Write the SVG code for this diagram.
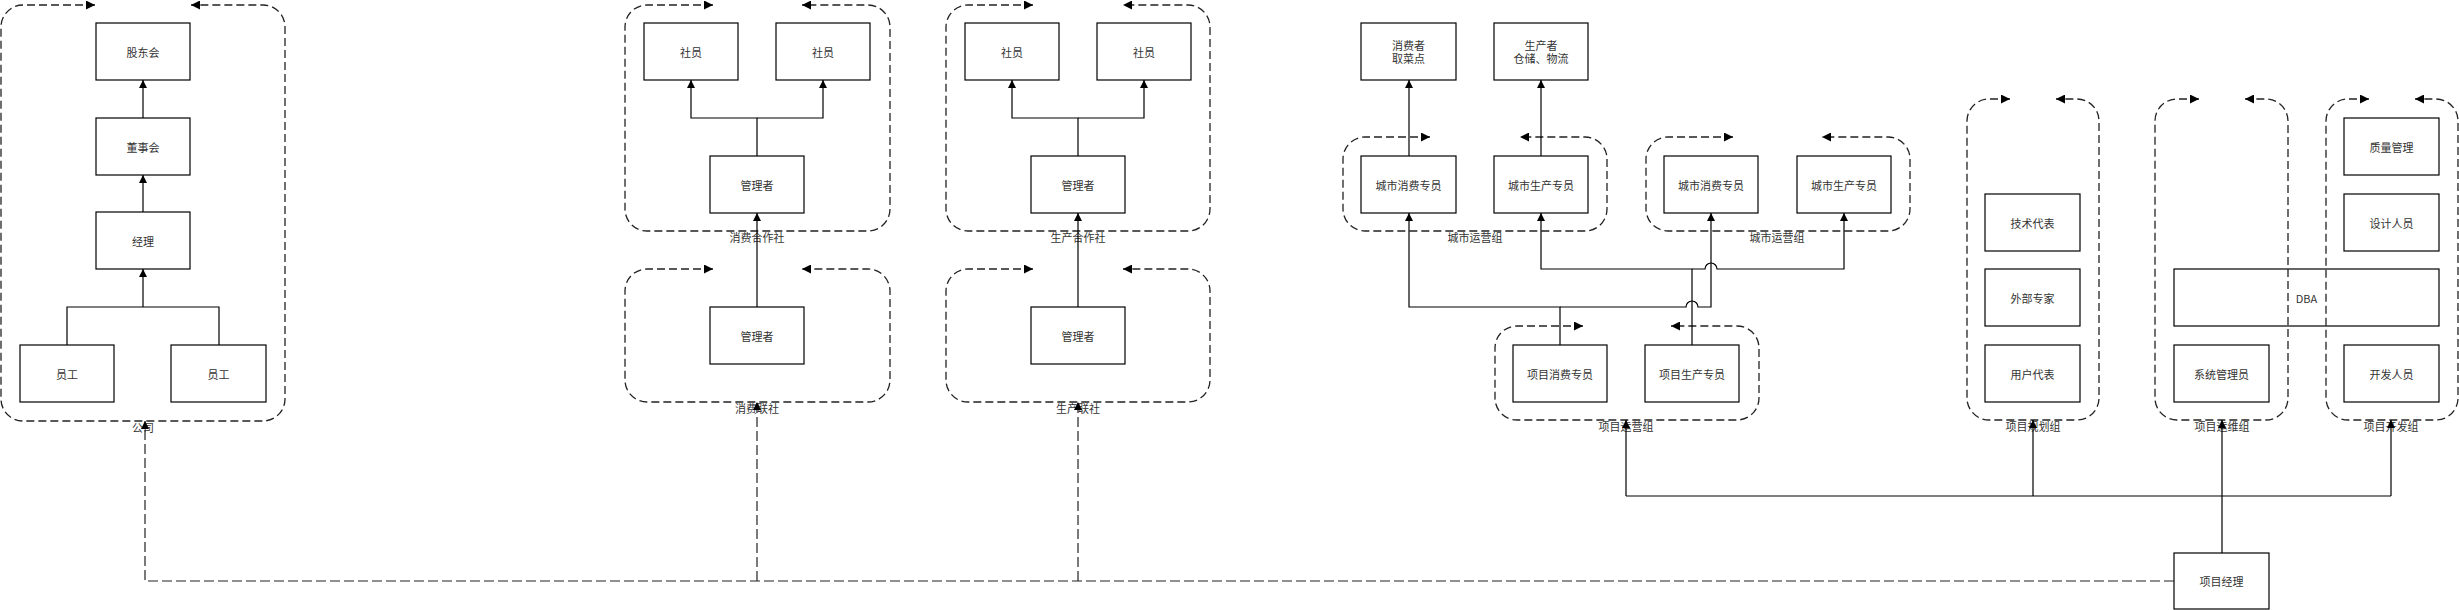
<svg xmlns="http://www.w3.org/2000/svg" width="2459" height="610" viewBox="0 0 2459 610">
<style>
.box{fill:#fff;stroke:#000;stroke-width:1.2}
.t{font-family:"Noto Sans CJK SC","Liberation Sans",sans-serif;font-size:11px;fill:#333;text-anchor:middle;dominant-baseline:central}
.ct{fill:none;stroke:#222;stroke-width:1.3;stroke-dasharray:8 4;marker-start:url(#ca);marker-end:url(#ca)}
.c{fill:none;stroke:#000;stroke-width:1.2}
.ca{marker-end:url(#a)}
.d{fill:none;stroke:#222;stroke-width:1.2;stroke-dasharray:10 4}
</style>
<defs>
<marker id="a" viewBox="0 0 10 10" refX="10" refY="5" markerWidth="8" markerHeight="9" markerUnits="userSpaceOnUse" orient="auto"><path d="M0,0L10,5L0,10z" fill="#000"/></marker>
<marker id="ca" viewBox="0 0 10 10" refX="10" refY="5" markerWidth="10" markerHeight="9" markerUnits="userSpaceOnUse" orient="auto-start-reverse"><path d="M0,0L10,5L0,10z" fill="#000"/></marker>
</defs>
<rect width="2459" height="610" fill="#fff"/>

<g id="nodes">
<g id="n-gudong"><rect class="box" x="96" y="23" width="94" height="57"/><text class="t" x="143" y="51.5">股东会</text></g>
<g id="n-dongshi"><rect class="box" x="96" y="118" width="94" height="57"/><text class="t" x="143" y="146.5">董事会</text></g>
<g id="n-jingli"><rect class="box" x="96" y="212" width="94" height="57"/><text class="t" x="143" y="240.5">经理</text></g>
<g id="n-yg1"><rect class="box" x="20" y="345" width="94" height="57"/><text class="t" x="67" y="373.5">员工</text></g>
<g id="n-yg2"><rect class="box" x="171" y="345" width="95" height="57"/><text class="t" x="218.5" y="373.5">员工</text></g>

<g id="n-xf-sy1"><rect class="box" x="644" y="23" width="94" height="57"/><text class="t" x="691" y="51.5">社员</text></g>
<g id="n-xf-sy2"><rect class="box" x="776" y="23" width="94" height="57"/><text class="t" x="823" y="51.5">社员</text></g>
<g id="n-xf-gl"><rect class="box" x="710" y="156" width="94" height="57"/><text class="t" x="757" y="184.5">管理者</text></g>
<g id="n-xfls-gl"><rect class="box" x="710" y="307" width="94" height="57"/><text class="t" x="757" y="335.5">管理者</text></g>

<g id="n-sc-sy1"><rect class="box" x="965" y="23" width="94" height="57"/><text class="t" x="1012" y="51.5">社员</text></g>
<g id="n-sc-sy2"><rect class="box" x="1097" y="23" width="94" height="57"/><text class="t" x="1144" y="51.5">社员</text></g>
<g id="n-sc-gl"><rect class="box" x="1031" y="156" width="94" height="57"/><text class="t" x="1078" y="184.5">管理者</text></g>
<g id="n-scls-gl"><rect class="box" x="1031" y="307" width="94" height="57"/><text class="t" x="1078" y="335.5">管理者</text></g>

<g id="n-xfz"><rect class="box" x="1361" y="23" width="95" height="57"/><text class="t" x="1408.5" y="45">消费者</text><text class="t" x="1408.5" y="58">取菜点</text></g>
<g id="n-scz"><rect class="box" x="1494" y="23" width="94" height="57"/><text class="t" x="1541" y="45">生产者</text><text class="t" x="1541" y="58">仓储、物流</text></g>
<g id="n-cs-xf1"><rect class="box" x="1361" y="156" width="95" height="57"/><text class="t" x="1408.5" y="184.5">城市消费专员</text></g>
<g id="n-cs-sc1"><rect class="box" x="1494" y="156" width="94" height="57"/><text class="t" x="1541" y="184.5">城市生产专员</text></g>
<g id="n-cs-xf2"><rect class="box" x="1664" y="156" width="94" height="57"/><text class="t" x="1711" y="184.5">城市消费专员</text></g>
<g id="n-cs-sc2"><rect class="box" x="1797" y="156" width="94" height="57"/><text class="t" x="1844" y="184.5">城市生产专员</text></g>
<g id="n-xm-xf"><rect class="box" x="1513" y="345" width="94" height="57"/><text class="t" x="1560" y="373.5">项目消费专员</text></g>
<g id="n-xm-sc"><rect class="box" x="1645" y="345" width="94" height="57"/><text class="t" x="1692" y="373.5">项目生产专员</text></g>

<g id="n-jsdb"><rect class="box" x="1985" y="194" width="95" height="57"/><text class="t" x="2032.5" y="222.5">技术代表</text></g>
<g id="n-wbzj"><rect class="box" x="1985" y="269" width="95" height="57"/><text class="t" x="2032.5" y="297.5">外部专家</text></g>
<g id="n-yhdb"><rect class="box" x="1985" y="345" width="95" height="57"/><text class="t" x="2032.5" y="373.5">用户代表</text></g>
<g id="n-xtgl"><rect class="box" x="2174" y="345" width="95" height="57"/><text class="t" x="2221.5" y="373.5">系统管理员</text></g>
<g id="n-dba"><rect class="box" x="2174" y="269" width="265" height="57" fill="none" style="fill:none"/><text class="t" x="2306.5" y="297.5">DBA</text></g>
<g id="n-zlgl"><rect class="box" x="2344" y="118" width="95" height="57"/><text class="t" x="2391.5" y="146.5">质量管理</text></g>
<g id="n-sjry"><rect class="box" x="2344" y="194" width="95" height="57"/><text class="t" x="2391.5" y="222.5">设计人员</text></g>
<g id="n-kfry"><rect class="box" x="2344" y="345" width="95" height="57"/><text class="t" x="2391.5" y="373.5">开发人员</text></g>
<g id="n-xmjl"><rect class="box" x="2174" y="553" width="95" height="56"/><text class="t" x="2221.5" y="581">项目经理</text></g>
</g>

<g id="containers">
<g id="g-gongsi"><path class="ct" d="M95,5 H23 A22,22 0 0 0 1,27 V399 A22,22 0 0 0 23,421 H263 A22,22 0 0 0 285,399 V27 A22,22 0 0 0 263,5 H191"/><text class="t" x="143" y="427">公司</text></g>
<g id="g-xfhzs"><path class="ct" d="M713,5 H647 A22,22 0 0 0 625,27 V209 A22,22 0 0 0 647,231 H868 A22,22 0 0 0 890,209 V27 A22,22 0 0 0 868,5 H802"/><text class="t" x="757" y="237">消费合作社</text></g>
<g id="g-xfls"><path class="ct" d="M713,269 H647 A22,22 0 0 0 625,291 V380 A22,22 0 0 0 647,402 H868 A22,22 0 0 0 890,380 V291 A22,22 0 0 0 868,269 H802"/><text class="t" x="757" y="408">消费联社</text></g>
<g id="g-schzs"><path class="ct" d="M1033,5 H968 A22,22 0 0 0 946,27 V209 A22,22 0 0 0 968,231 H1188 A22,22 0 0 0 1210,209 V27 A22,22 0 0 0 1188,5 H1123"/><text class="t" x="1078" y="237">生产合作社</text></g>
<g id="g-scls"><path class="ct" d="M1033,269 H968 A22,22 0 0 0 946,291 V380 A22,22 0 0 0 968,402 H1188 A22,22 0 0 0 1210,380 V291 A22,22 0 0 0 1188,269 H1123"/><text class="t" x="1078" y="408">生产联社</text></g>
<g id="g-csyy1"><path class="ct" d="M1430,137 H1365 A22,22 0 0 0 1343,159 V209 A22,22 0 0 0 1365,231 H1585 A22,22 0 0 0 1607,209 V159 A22,22 0 0 0 1585,137 H1520"/><text class="t" x="1475" y="237">城市运营组</text></g>
<g id="g-csyy2"><path class="ct" d="M1733,137 H1668 A22,22 0 0 0 1646,159 V209 A22,22 0 0 0 1668,231 H1888 A22,22 0 0 0 1910,209 V159 A22,22 0 0 0 1888,137 H1822"/><text class="t" x="1777" y="237">城市运营组</text></g>
<g id="g-xmyy"><path class="ct" d="M1583,326 H1517 A22,22 0 0 0 1495,348 V398 A22,22 0 0 0 1517,420 H1737 A22,22 0 0 0 1759,398 V348 A22,22 0 0 0 1737,326 H1671"/><text class="t" x="1626" y="426">项目运营组</text></g>
<g id="g-xmgh"><path class="ct" d="M2010,99 H1989 A22,22 0 0 0 1967,121 V398 A22,22 0 0 0 1989,420 H2077 A22,22 0 0 0 2099,398 V121 A22,22 0 0 0 2077,99 H2056"/><text class="t" x="2033" y="426">项目规划组</text></g>
<g id="g-xmyw"><path class="ct" d="M2199,99 H2177 A22,22 0 0 0 2155,121 V398 A22,22 0 0 0 2177,420 H2266 A22,22 0 0 0 2288,398 V121 A22,22 0 0 0 2266,99 H2245"/><text class="t" x="2222" y="426">项目运维组</text></g>
<g id="g-xmkf"><path class="ct" d="M2369,99 H2348 A22,22 0 0 0 2326,121 V398 A22,22 0 0 0 2348,420 H2436 A22,22 0 0 0 2458,398 V121 A22,22 0 0 0 2436,99 H2415"/><text class="t" x="2391" y="426">项目开发组</text></g>
</g>

<g id="connectors">
<path class="c" d="M67,345 V307 H219 V345"/>
<path class="c ca" d="M143,307 V269"/>
<path class="c ca" d="M143,212 V175"/>
<path class="c ca" d="M143,118 V80"/>
<path class="c ca" d="M757,156 V118 H691 V80"/>
<path class="c ca" d="M757,118 H823 V80"/>
<path class="c ca" d="M757,307 V213"/>
<path class="c ca" d="M1078,156 V118 H1012 V80"/>
<path class="c ca" d="M1078,118 H1144 V80"/>
<path class="c ca" d="M1078,307 V213"/>
<path class="c ca" d="M1409,156 V80"/>
<path class="c ca" d="M1541,156 V80"/>
<path class="c ca" d="M1560,345 V307 H1409 V213"/>
<path class="c ca" d="M1560,307 H1686 A6,6 0 0 1 1698,307 H1711 V213"/>
<path class="c ca" d="M1692,345 V269 H1541 V213"/>
<path class="c ca" d="M1692,269 H1705 A6,6 0 0 1 1717,269 H1844 V213"/>
<path class="c" d="M2222,553 V496 M1626,496 H2391"/>
<path class="c ca" d="M1626,496 V420"/>
<path class="c ca" d="M2033,496 V420"/>
<path class="c ca" d="M2222,496 V420"/>
<path class="c ca" d="M2391,496 V420"/>
<path class="d ca" d="M2174,581 H145 V421"/>
<path class="d ca" d="M757,581 V402"/>
<path class="d ca" d="M1078,581 V402"/>
</g>
</svg>
